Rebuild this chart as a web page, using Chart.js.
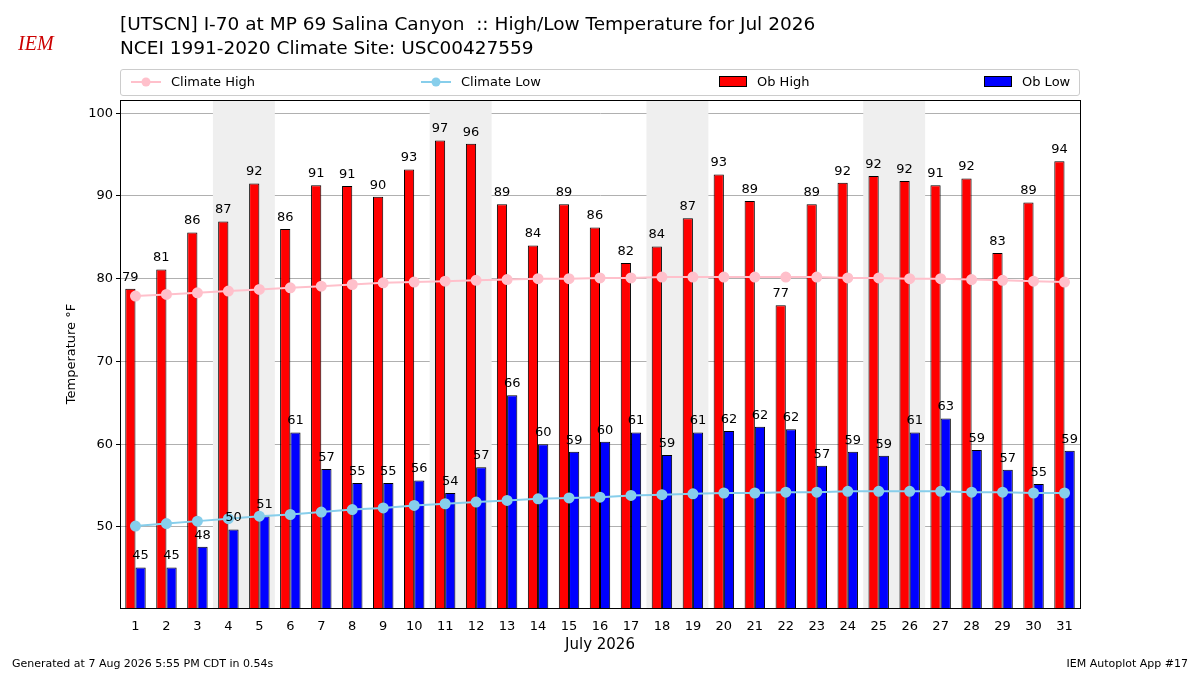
<!DOCTYPE html>
<html>
<head>
<meta charset="utf-8">
<script src="https://cdn.jsdelivr.net/npm/chart.js@4/dist/chart.umd.min.js"></script>
<style>
  body { margin: 0; background: #fff; font-family: "DejaVu Sans", sans-serif; }
  #wrap { position: relative; width: 1200px; height: 675px; }
  canvas { position: absolute; left: 0; top: 0; }
  .t { position: absolute; color: #000; white-space: nowrap; }
  #legend { position: absolute; left: 120px; top: 69px; width: 958px; height: 25px; border: 1px solid #ccc; border-radius: 3px; font-size: 13px; }
  .li { position: absolute; top: 4px; display: flex; align-items: center; }
  .sw { display: inline-block; margin-right: 10px; }
</style>
</head>
<body>
<div id="wrap">
  <canvas id="chart" width="1200" height="675"></canvas>
  <div class="t" style="left:18px;top:32px;color:#c00;font:italic 20px 'Liberation Serif';">IEM</div>
  <div class="t" style="left:120px;top:12px;font-size:18.5px;line-height:24px;">[UTSCN] I-70 at MP 69 Salina Canyon&nbsp; :: High/Low Temperature for Jul 2026<br>NCEI 1991-2020 Climate Site: USC00427559</div>
  <div id="legend">
    <div class="li" style="left:10px"><svg class="sw" width="30" height="12"><line x1="0" y1="6" x2="30" y2="6" stroke="pink" stroke-width="2"/><circle cx="15" cy="6" r="4.5" fill="pink"/></svg>Climate High</div>
    <div class="li" style="left:300px"><svg class="sw" width="30" height="12"><line x1="0" y1="6" x2="30" y2="6" stroke="skyblue" stroke-width="2"/><circle cx="15" cy="6" r="4.5" fill="skyblue"/></svg>Climate Low</div>
    <div class="li" style="left:598px"><svg class="sw" width="28" height="11"><rect x="0.5" y="0.5" width="27" height="10" fill="red" stroke="#000"/></svg>Ob High</div>
    <div class="li" style="left:863px"><svg class="sw" width="28" height="11"><rect x="0.5" y="0.5" width="27" height="10" fill="blue" stroke="#000"/></svg>Ob Low</div>
  </div>
  <div class="t" style="left:12px;top:657px;font-size:11px;">Generated at 7 Aug 2026 5:55 PM CDT in 0.54s</div>
  <div class="t" style="right:12px;top:657px;font-size:11px;">IEM Autoplot App #17</div>
</div>
<script>
const days = Array.from({length: 31}, (_, i) => String(i + 1));
const obHigh = [78.8, 81.1, 85.6, 86.9, 91.5, 86.0, 91.3, 91.2, 89.9, 93.2, 96.7, 96.3, 89.0, 84.0, 89.0, 86.2, 81.9, 83.9, 87.3, 92.6, 89.4, 76.8, 89.0, 91.6, 92.4, 91.8, 91.3, 92.1, 83.1, 89.2, 94.2];
const obLow = [45.1, 45.1, 47.6, 49.7, 51.3, 61.4, 57.0, 55.3, 55.3, 55.6, 54.1, 57.2, 65.9, 60.0, 59.1, 60.3, 61.4, 58.7, 61.4, 61.6, 62.1, 61.8, 57.4, 59.1, 58.6, 61.4, 63.1, 59.3, 56.9, 55.2, 59.2];
const climHigh = [77.9, 78.1, 78.3, 78.5, 78.7, 78.9, 79.1, 79.3, 79.5, 79.6, 79.7, 79.8, 79.9, 80.0, 80.0, 80.1, 80.1, 80.2, 80.2, 80.2, 80.2, 80.2, 80.2, 80.1, 80.1, 80.0, 80.0, 79.9, 79.8, 79.7, 79.6];
const climLow = [50.1, 50.4, 50.7, 51.0, 51.3, 51.5, 51.8, 52.1, 52.3, 52.6, 52.8, 53.0, 53.2, 53.4, 53.5, 53.6, 53.8, 53.9, 54.0, 54.1, 54.1, 54.2, 54.2, 54.3, 54.3, 54.3, 54.3, 54.2, 54.2, 54.1, 54.1];
const weekends = [[4, 5], [11, 12], [18, 19], [25, 26]];
const yTicks = [50, 60, 70, 80, 90, 100];

const bgPlugin = {
  id: 'bg',
  beforeDatasetsDraw(chart) {
    const {ctx, chartArea: a, scales: {x}} = chart;
    ctx.save();
    ctx.fillStyle = '#efefef';
    weekends.forEach(([s, e]) => {
      const x0 = x.getPixelForValue(s - 1) - x.width / 62;
      const x1 = x.getPixelForValue(e - 1) + x.width / 62;
      ctx.fillRect(x0, a.top, x1 - x0, a.bottom - a.top);
    });
    ctx.restore();
  }
};
const labelPlugin = {
  id: 'labels',
  afterDatasetsDraw(chart) {
    const {ctx} = chart;
    ctx.save();
    ctx.font = '13px "DejaVu Sans"';
    ctx.textAlign = 'center';
    ctx.textBaseline = 'bottom';
    ctx.fillStyle = '#000';
    [0, 1].forEach(di => {
      const ds = chart.data.datasets[di];
      chart.getDatasetMeta(di).data.forEach((bar, i) => {
        ctx.fillText(Math.round(ds.data[i]), bar.x, bar.y - 5);
      });
    });
    ctx.strokeStyle = '#000';
    ctx.lineWidth = 1;
    const a = chart.chartArea;
    ctx.strokeRect(a.left + 0.5, a.top + 0.5, a.right - a.left, a.bottom - a.top);
    ctx.restore();
  }
};

const barStyle = { borderColor: '#000', borderWidth: 1, borderSkipped: 'bottom', order: 2, categoryPercentage: 0.66, barPercentage: 1 };

new Chart(document.getElementById('chart'), {
  data: {
    labels: days,
    datasets: [
      { type: 'bar', label: 'Ob High', data: obHigh, backgroundColor: 'red', ...barStyle },
      { type: 'bar', label: 'Ob Low', data: obLow, backgroundColor: 'blue', ...barStyle },
      { type: 'line', label: 'Climate High', data: climHigh, borderColor: 'pink', backgroundColor: 'pink', borderWidth: 2, pointRadius: 4.5, order: 1 },
      { type: 'line', label: 'Climate Low', data: climLow, borderColor: 'skyblue', backgroundColor: 'skyblue', borderWidth: 2, pointRadius: 4.5, order: 1 }
    ]
  },
  options: {
    responsive: false,
    animation: false,
    layout: { padding: { left: 60, right: 120, top: 100, bottom: 17 } },
    plugins: { legend: { display: false }, tooltip: { enabled: false } },
    scales: {
      x: {
        grid: { display: false },
        border: { color: '#000' },
        ticks: { color: '#000', font: { size: 13, family: 'DejaVu Sans' }, maxRotation: 0 },
        title: { display: true, text: 'July 2026', color: '#000', font: { size: 15, family: 'DejaVu Sans' } },
        afterFit(s) { s.height = 50; }
      },
      y: {
        min: 40.2, max: 101.6,
        afterBuildTicks(s) { s.ticks = yTicks.map(v => ({value: v})); },
        grid: { color: '#b0b0b0', drawTicks: true, tickColor: '#000', tickLength: 4 },
        border: { color: '#000' },
        ticks: { color: '#000', font: { size: 13, family: 'DejaVu Sans' } },
        title: { display: true, text: 'Temperature °F', color: '#000', font: { size: 13, family: 'DejaVu Sans' } },
        afterFit(s) { s.width = 60; }
      }
    }
  },
  plugins: [bgPlugin, labelPlugin]
});
</script>
</body>
</html>
